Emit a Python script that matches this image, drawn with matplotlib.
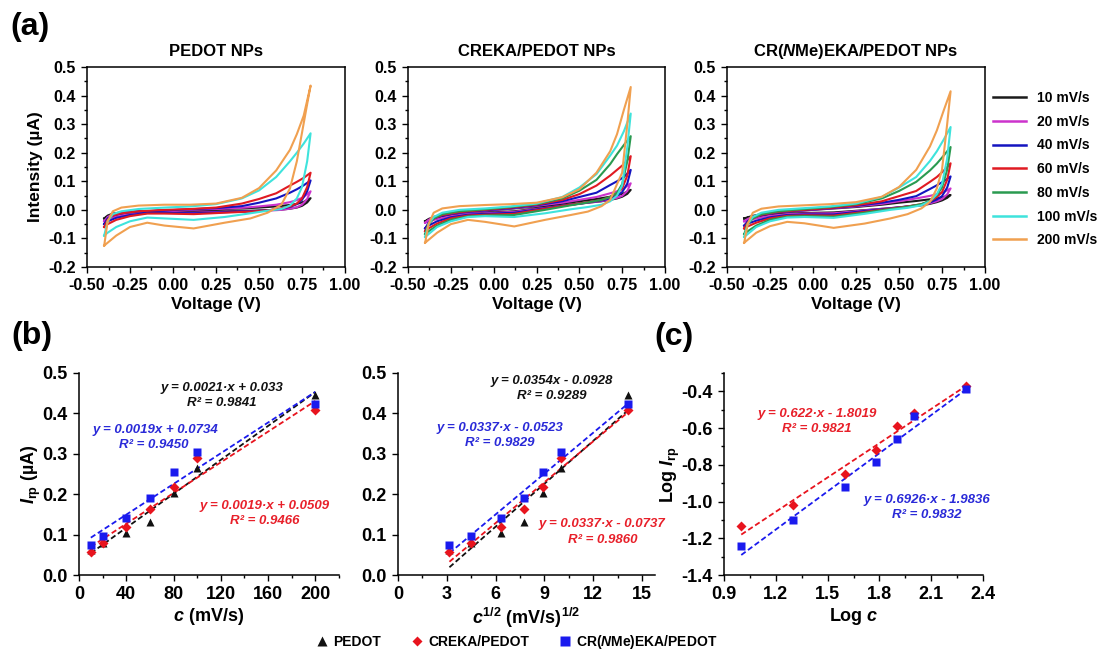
import numpy as np
import matplotlib
matplotlib.use('Agg')
import matplotlib.pyplot as plt
from matplotlib.lines import Line2D
from matplotlib.ticker import MultipleLocator, FormatStrFormatter

plt.rcParams['font.family'] = 'Liberation Sans'
plt.rcParams['font.weight'] = 'bold'
plt.rcParams['axes.labelweight'] = 'bold'
plt.rcParams['axes.unicode_minus'] = False
plt.rcParams['mathtext.fontset'] = 'custom'
plt.rcParams['mathtext.rm'] = 'Liberation Sans:bold'
plt.rcParams['mathtext.it'] = 'Liberation Sans:italic:bold'
plt.rcParams['mathtext.bf'] = 'Liberation Sans:bold'

# ---- (a) cyclic voltammograms ----
rate_labels = ['10 mV/s', '20 mV/s', '40 mV/s', '60 mV/s', '80 mV/s', '100 mV/s', '200 mV/s']
cv_colors = ['#1a1a1a', '#cc33cc', '#1414c0', '#e01a22', '#2a9a50', '#3ee3dc', '#f0a050']

v_fwd = [-0.40, -0.38, -0.35, -0.30, -0.20, -0.05, 0.10, 0.25, 0.40, 0.50, 0.60, 0.68, 0.72, 0.76, 0.80]
v_rev = [0.80, 0.78, 0.75, 0.72, 0.68, 0.63, 0.55, 0.45, 0.30, 0.12, -0.05, -0.15, -0.25, -0.33, -0.38, -0.40]

# PEDOT NPs (no 80 mV/s trace visible)
pedot_fwd = [
    [-0.030, -0.020, -0.013, -0.009, -0.005, -0.003, -0.001, 0.002, 0.005, 0.008, 0.012, 0.017, 0.021, 0.028, 0.041],
    [-0.040, -0.025, -0.015, -0.010, -0.006, -0.003, 0.000, 0.003, 0.007, 0.012, 0.018, 0.027, 0.034, 0.045, 0.065],
    [-0.050, -0.030, -0.020, -0.012, -0.006, -0.002, 0.002, 0.006, 0.013, 0.025, 0.040, 0.060, 0.072, 0.086, 0.103],
    [-0.060, -0.035, -0.020, -0.012, -0.005, 0.000, 0.003, 0.008, 0.022, 0.038, 0.058, 0.085, 0.098, 0.112, 0.130],
    None,
    [-0.090, -0.040, -0.015, -0.005, 0.003, 0.008, 0.012, 0.020, 0.040, 0.068, 0.115, 0.170, 0.200, 0.232, 0.268],
    [-0.125, -0.040, -0.005, 0.008, 0.015, 0.018, 0.018, 0.022, 0.042, 0.076, 0.138, 0.210, 0.265, 0.330, 0.435],
]
pedot_rev = [
    [0.041, 0.026, 0.014, 0.008, 0.004, 0.001, -0.001, -0.003, -0.005, -0.007, -0.007, -0.008, -0.012, -0.018, -0.025, -0.030],
    [0.065, 0.038, 0.018, 0.009, 0.004, 0.000, -0.003, -0.005, -0.007, -0.010, -0.009, -0.010, -0.015, -0.022, -0.032, -0.040],
    [0.103, 0.065, 0.035, 0.020, 0.010, 0.004, -0.002, -0.005, -0.008, -0.012, -0.010, -0.011, -0.018, -0.028, -0.040, -0.050],
    [0.130, 0.080, 0.040, 0.022, 0.012, 0.005, -0.002, -0.006, -0.010, -0.015, -0.013, -0.013, -0.022, -0.035, -0.050, -0.060],
    None,
    [0.268, 0.170, 0.080, 0.040, 0.015, 0.003, -0.003, -0.012, -0.025, -0.035, -0.030, -0.027, -0.040, -0.060, -0.080, -0.090],
    [0.435, 0.370, 0.270, 0.170, 0.075, 0.018, -0.010, -0.030, -0.045, -0.065, -0.055, -0.045, -0.060, -0.090, -0.115, -0.125],
]

# CREKA/PEDOT NPs
creka_fwd = [
    [-0.040, -0.032, -0.025, -0.018, -0.010, -0.003, 0.004, 0.012, 0.022, 0.030, 0.038, 0.046, 0.051, 0.058, 0.070],
    [-0.045, -0.035, -0.025, -0.017, -0.010, -0.003, 0.005, 0.014, 0.025, 0.035, 0.045, 0.058, 0.065, 0.075, 0.093],
    [-0.065, -0.045, -0.030, -0.020, -0.010, -0.002, 0.006, 0.016, 0.030, 0.045, 0.060, 0.087, 0.100, 0.115, 0.140],
    [-0.075, -0.050, -0.030, -0.018, -0.008, 0.000, 0.008, 0.018, 0.035, 0.055, 0.085, 0.120, 0.140, 0.160, 0.188],
    [-0.085, -0.050, -0.030, -0.015, -0.005, 0.002, 0.010, 0.020, 0.040, 0.067, 0.105, 0.160, 0.195, 0.227, 0.258],
    [-0.095, -0.050, -0.025, -0.010, 0.000, 0.005, 0.012, 0.022, 0.045, 0.078, 0.125, 0.190, 0.225, 0.275, 0.337],
    [-0.115, -0.050, -0.010, 0.005, 0.013, 0.017, 0.020, 0.025, 0.044, 0.072, 0.130, 0.205, 0.265, 0.350, 0.430],
]
creka_rev = [
    [0.070, 0.056, 0.046, 0.040, 0.035, 0.030, 0.025, 0.018, 0.008, -0.005, -0.010, -0.013, -0.020, -0.028, -0.035, -0.040],
    [0.093, 0.066, 0.049, 0.042, 0.036, 0.031, 0.025, 0.018, 0.007, -0.007, -0.012, -0.015, -0.022, -0.032, -0.040, -0.045],
    [0.140, 0.092, 0.062, 0.050, 0.040, 0.033, 0.026, 0.018, 0.006, -0.010, -0.014, -0.017, -0.026, -0.040, -0.055, -0.065],
    [0.188, 0.120, 0.075, 0.058, 0.045, 0.035, 0.027, 0.018, 0.004, -0.014, -0.017, -0.020, -0.030, -0.048, -0.065, -0.075],
    [0.258, 0.170, 0.090, 0.060, 0.045, 0.035, 0.026, 0.016, 0.000, -0.018, -0.020, -0.023, -0.035, -0.055, -0.075, -0.085],
    [0.337, 0.220, 0.085, 0.050, 0.030, 0.018, 0.010, 0.002, -0.012, -0.025, -0.022, -0.025, -0.040, -0.060, -0.085, -0.095],
    [0.430, 0.300, 0.130, 0.090, 0.035, 0.013, -0.006, -0.018, -0.035, -0.058, -0.042, -0.035, -0.050, -0.080, -0.105, -0.115],
]

# CR(NMe)EKA/PEDOT NPs
nme_fwd = [
    [-0.030, -0.026, -0.021, -0.015, -0.008, -0.002, 0.004, 0.010, 0.018, 0.025, 0.031, 0.037, 0.040, 0.045, 0.052],
    [-0.040, -0.032, -0.024, -0.016, -0.008, -0.002, 0.005, 0.012, 0.021, 0.030, 0.040, 0.049, 0.055, 0.062, 0.075],
    [-0.055, -0.040, -0.028, -0.018, -0.008, -0.001, 0.006, 0.014, 0.025, 0.035, 0.048, 0.073, 0.086, 0.100, 0.117],
    [-0.065, -0.045, -0.030, -0.017, -0.007, 0.000, 0.007, 0.016, 0.030, 0.048, 0.066, 0.098, 0.115, 0.137, 0.163],
    [-0.085, -0.050, -0.030, -0.015, -0.005, 0.003, 0.010, 0.020, 0.040, 0.066, 0.098, 0.138, 0.162, 0.190, 0.220],
    [-0.095, -0.050, -0.025, -0.010, 0.000, 0.006, 0.012, 0.022, 0.045, 0.078, 0.115, 0.171, 0.205, 0.246, 0.290],
    [-0.115, -0.050, -0.010, 0.004, 0.012, 0.016, 0.020, 0.027, 0.046, 0.080, 0.140, 0.222, 0.278, 0.348, 0.415],
]
nme_rev = [
    [0.052, 0.042, 0.033, 0.027, 0.021, 0.016, 0.011, 0.006, -0.001, -0.009, -0.011, -0.013, -0.018, -0.024, -0.028, -0.030],
    [0.075, 0.054, 0.038, 0.030, 0.023, 0.017, 0.012, 0.006, -0.002, -0.012, -0.013, -0.015, -0.021, -0.030, -0.036, -0.040],
    [0.117, 0.078, 0.048, 0.036, 0.026, 0.018, 0.012, 0.005, -0.004, -0.016, -0.016, -0.018, -0.026, -0.038, -0.048, -0.055],
    [0.163, 0.105, 0.062, 0.045, 0.030, 0.020, 0.012, 0.004, -0.007, -0.020, -0.019, -0.021, -0.030, -0.045, -0.058, -0.065],
    [0.220, 0.140, 0.078, 0.052, 0.032, 0.020, 0.011, 0.003, -0.010, -0.024, -0.022, -0.024, -0.035, -0.055, -0.075, -0.085],
    [0.290, 0.180, 0.090, 0.055, 0.030, 0.016, 0.007, 0.000, -0.014, -0.028, -0.025, -0.027, -0.040, -0.060, -0.085, -0.095],
    [0.415, 0.300, 0.140, 0.075, 0.028, 0.005, -0.015, -0.030, -0.048, -0.063, -0.047, -0.042, -0.057, -0.080, -0.105, -0.115],
]

# ---- (b), (c) peak currents ----
scan_rate = [10, 20, 40, 60, 80, 100, 200]
irp_pedot = [0.062, 0.079, 0.103, 0.131, 0.202, 0.266, 0.446]
irp_creka = [0.058, 0.080, 0.120, 0.163, 0.219, 0.289, 0.409]
irp_nme = [0.074, 0.097, 0.142, 0.190, 0.256, 0.304, 0.423]
log_irp_creka = [-1.133, -1.018, -0.851, -0.718, -0.591, -0.518, -0.373]
log_irp_nme = [-1.242, -1.100, -0.922, -0.785, -0.658, -0.536, -0.385]

lin_slope = [0.0021, 0.0019, 0.0019]
lin_icpt = [0.033, 0.0509, 0.0734]
sqrt_slope = [0.0354, 0.0337, 0.0337]
sqrt_icpt = [-0.0928, -0.0737, -0.0523]
log_slope = [0.622, 0.6926]
log_icpt = [-1.8019, -1.9836]

W, H = 1101, 657
BLACK, RED, BLUE = '#111111', '#e8141e', '#1a1aee'
TXT_RED, TXT_BLUE = '#e8202a', '#2a2ad8'

fig = plt.figure(figsize=(W / 100, H / 100), dpi=100)


def rect(l, t, r, b):
    return [l / W, 1 - b / H, (r - l) / W, (b - t) / H]


def ftext(x, y, s, **kw):
    fig.text(x / W, 1 - y / H, s, ha='center', va='center', **kw)


def cv_panel(box, fwd, rev, title, ylabel=None):
    ax = fig.add_axes(rect(*box))
    for i in range(len(rate_labels)):
        if fwd[i] is None:
            continue
        ax.plot(v_fwd + v_rev, fwd[i] + rev[i], color=cv_colors[i], lw=1.5)
    ax.set_xlim(-0.5, 1.0)
    ax.set_ylim(-0.2, 0.5)
    ax.xaxis.set_major_locator(MultipleLocator(0.25))
    ax.xaxis.set_minor_locator(MultipleLocator(0.125))
    ax.yaxis.set_major_locator(MultipleLocator(0.1))
    ax.yaxis.set_minor_locator(MultipleLocator(0.05))
    ax.xaxis.set_major_formatter(FormatStrFormatter('%.2f'))
    ax.yaxis.set_major_formatter(FormatStrFormatter('%.1f'))
    ax.tick_params(which='major', direction='out', length=4, width=1, labelsize=11.5, pad=4)
    ax.tick_params(which='minor', direction='out', length=2.5, width=1)
    for s in ax.spines.values():
        s.set_linewidth(1.1)
    ax.set_title(title, fontsize=12, fontweight='bold', pad=8)
    ax.set_xlabel('Voltage (V)', fontsize=12.5, labelpad=3)
    if ylabel:
        ax.set_ylabel(ylabel, fontsize=12.5, labelpad=4)
    return ax


cv_panel((87, 67, 345, 267), pedot_fwd, pedot_rev, 'PEDOT NPs', 'Intensity (µA)')
cv_panel((408, 67, 665, 267), creka_fwd, creka_rev, 'CREKA/PEDOT NPs')
cv_panel((727, 67, 985, 267), nme_fwd, nme_rev, r'CR($N$Me)EKA/PEDOT NPs')

handles = [Line2D([], [], color=c, lw=1.8) for c in cv_colors]
fig.legend(handles, rate_labels, loc='upper left', bbox_to_anchor=(993 / W, 1 - 91 / H),
           frameon=False, fontsize=10, handlelength=2.4, handletextpad=0.8,
           labelspacing=0.7, borderpad=0, borderaxespad=0)


def style_b(ax, fs=13):
    for s in ['top', 'right']:
        ax.spines[s].set_visible(False)
    for s in ['left', 'bottom']:
        ax.spines[s].set_linewidth(1.1)
    ax.tick_params(which='major', direction='out', length=4, width=1, labelsize=fs, pad=4)
    ax.tick_params(which='minor', direction='out', length=2.5, width=1)


dash = dict(ls=(0, (3, 1.6)), lw=1.3)
eq_kw = dict(fontsize=9.5, fontstyle='italic', fontweight='bold')

# (b) left: I vs c
ax = fig.add_axes(rect(79, 373, 339, 575))
x = np.array(scan_rate, dtype=float)
for k, col in enumerate([BLACK, RED, BLUE]):
    ax.plot([x[0], x[-1]], [lin_slope[k] * x[0] + lin_icpt[k], lin_slope[k] * x[-1] + lin_icpt[k]],
            color=col, **dash)
ax.plot(x, irp_pedot, '^', color=BLACK, ms=6, mec='none')
ax.plot(x, irp_creka, 'D', color=RED, ms=4.8, mec='none')
ax.plot(x, irp_nme, 's', color=BLUE, ms=6.3, mec='none')
ax.set_xlim(0, 220)
ax.set_ylim(0, 0.5)
ax.set_xticks([0, 40, 80, 120, 160, 200])
ax.xaxis.set_minor_locator(MultipleLocator(20))
ax.yaxis.set_major_locator(MultipleLocator(0.1))
ax.yaxis.set_major_formatter(FormatStrFormatter('%.1f'))
style_b(ax)
ax.set_xlabel(r'$c$ (mV/s)', fontsize=13, labelpad=2)
ax.set_ylabel(r'$I_{\rm rp}$ (µA)', fontsize=13, labelpad=0)
ftext(222, 388, 'y = 0.0021·x + 0.033', color=BLACK, **eq_kw)
ftext(222, 403, 'R² = 0.9841', color=BLACK, **eq_kw)
ftext(155, 430, 'y = 0.0019x + 0.0734', color=TXT_BLUE, **eq_kw)
ftext(154, 445, 'R² = 0.9450', color=TXT_BLUE, **eq_kw)
ftext(265, 506, 'y = 0.0019·x + 0.0509', color=TXT_RED, **eq_kw)
ftext(265, 521, 'R² = 0.9466', color=TXT_RED, **eq_kw)

# (b) right: I vs c^1/2
ax = fig.add_axes(rect(398, 373, 655, 575))
xs = np.sqrt(x)
for k, col in enumerate([BLACK, RED, BLUE]):
    ax.plot([xs[0], xs[-1]], [sqrt_slope[k] * xs[0] + sqrt_icpt[k], sqrt_slope[k] * xs[-1] + sqrt_icpt[k]],
            color=col, **dash)
ax.plot(xs, irp_pedot, '^', color=BLACK, ms=6, mec='none')
ax.plot(xs, irp_creka, 'D', color=RED, ms=4.8, mec='none')
ax.plot(xs, irp_nme, 's', color=BLUE, ms=6.3, mec='none')
ax.set_xlim(0, 15.8)
ax.set_ylim(0, 0.5)
ax.set_xticks([0, 3, 6, 9, 12, 15])
ax.xaxis.set_minor_locator(MultipleLocator(1.5))
ax.yaxis.set_major_locator(MultipleLocator(0.1))
ax.yaxis.set_major_formatter(FormatStrFormatter('%.1f'))
style_b(ax)
ax.set_xlabel(r'$c^{1/2}$ (mV/s)$^{1/2}$', fontsize=13, labelpad=2)
ftext(552, 381, 'y = 0.0354x - 0.0928', color=BLACK, **eq_kw)
ftext(552, 396, 'R² = 0.9289', color=BLACK, **eq_kw)
ftext(500, 428, 'y = 0.0337·x - 0.0523', color=TXT_BLUE, **eq_kw)
ftext(500, 443, 'R² = 0.9829', color=TXT_BLUE, **eq_kw)
ftext(602, 524, 'y = 0.0337·x - 0.0737', color=TXT_RED, **eq_kw)
ftext(603, 540, 'R² = 0.9860', color=TXT_RED, **eq_kw)

# (c) log-log
ax = fig.add_axes(rect(724, 373, 983, 575))
xl = np.log10(x)
for k, col in enumerate([RED, BLUE]):
    ax.plot([xl[0], xl[-1]], [log_slope[k] * xl[0] + log_icpt[k], log_slope[k] * xl[-1] + log_icpt[k]],
            color=col, **dash)
ax.plot(xl, log_irp_creka, 'D', color=RED, ms=4.8, mec='none')
ax.plot(xl, log_irp_nme, 's', color=BLUE, ms=6.3, mec='none')
ax.set_xlim(0.9, 2.4)
ax.set_ylim(-1.4, -0.3)
ax.set_xticks([0.9, 1.2, 1.5, 1.8, 2.1, 2.4])
ax.xaxis.set_minor_locator(MultipleLocator(0.15))
ax.set_yticks([-1.4, -1.2, -1.0, -0.8, -0.6, -0.4])
ax.yaxis.set_minor_locator(MultipleLocator(0.1))
ax.xaxis.set_major_formatter(FormatStrFormatter('%.1f'))
ax.yaxis.set_major_formatter(FormatStrFormatter('%.1f'))
style_b(ax)
ax.set_xlabel(r'Log $c$', fontsize=13, labelpad=2)
ax.set_ylabel(r'Log $I_{\rm rp}$', fontsize=13, labelpad=0)
ftext(817, 414, 'y = 0.622·x - 1.8019', color=TXT_RED, **eq_kw)
ftext(817, 429, 'R² = 0.9821', color=TXT_RED, **eq_kw)
ftext(927, 500, 'y = 0.6926·x - 1.9836', color=TXT_BLUE, **eq_kw)
ftext(927, 515, 'R² = 0.9832', color=TXT_BLUE, **eq_kw)

# bottom legend
mk = [Line2D([], [], ls='none', marker='^', color=BLACK, ms=7, mec='none'),
      Line2D([], [], ls='none', marker='D', color=RED, ms=5.5, mec='none'),
      Line2D([], [], ls='none', marker='s', color=BLUE, ms=7, mec='none')]
fig.legend(mk, ['PEDOT', 'CREKA/PEDOT', r'CR($N$Me)EKA/PEDOT'], loc='center',
           bbox_to_anchor=(517 / W, 1 - 642 / H), ncol=3, frameon=False, fontsize=10,
           handlelength=0.8, handletextpad=0.4, columnspacing=2.2)

# panel letters
ftext(30, 27, '(a)', fontsize=23, fontweight='bold')
ftext(32, 336, '(b)', fontsize=23, fontweight='bold')
ftext(674, 337, '(c)', fontsize=23, fontweight='bold')

fig.savefig('out.png', dpi=100)
